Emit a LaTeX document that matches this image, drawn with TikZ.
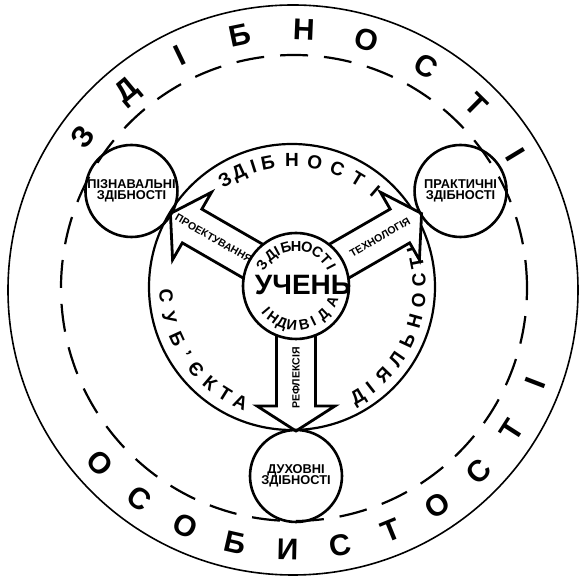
\documentclass[tikz,border=0pt]{standalone}
\usepackage{fontspec}
\setmainfont{Liberation Sans}
\tikzset{every node/.style={font=\bfseries},
  ring/.style={draw=black,line width=1.6pt},
  dashring/.style={draw=black,line width=2.2pt,dash pattern=on 28pt off 16pt},
  midring/.style={draw=black,line width=2.2pt},
  ball/.style={draw=black,circle,line width=2.6pt,inner sep=0pt},
  barrow/.style={draw=black,fill=white,line width=2.8pt,line join=miter},
  bigletter/.style={font=\bfseries\fontsize{30}{30}\selectfont,inner sep=0pt,
    text height=21.5pt,text depth=0pt},
  midletter/.style={font=\bfseries\fontsize{19}{19}\selectfont,inner sep=0pt,
    text height=13.6pt,text depth=0pt},
  hubletter/.style={font=\bfseries\fontsize{14.5}{14.5}\selectfont,inner sep=0pt,
    text height=10.4pt,text depth=0pt},
  arrowlabel/.style={font=\bfseries\fontsize{10.5}{10.5}\selectfont,inner sep=0pt},
  balllabel/.style={font=\bfseries\fontsize{12.8}{12.8}\selectfont,align=center}}

\begin{document}
\begin{tikzpicture}[x=1pt,y=1pt]
  \path[use as bounding box] (-292,-289) rectangle (287,288);
  \coordinate (rim) at (1,-2);
  \coordinate (mid) at (0,1);
  \coordinate (hub) at (4,2);
  % outer rings
  \draw[ring] (rim) circle (285pt);
  \draw[dashring] (2,0) circle (233pt);
  \foreach \l [count=\i from 0] in {З,Д,І,Б,Н,О,С,Т,І}
    \node[bigletter,rotate=144-14.1*\i-90] (top\i)
      at ([shift={(144-14.1*\i:261pt)}]rim) {\l};
  \foreach \l [count=\i from 0] in {О,С,О,Б,И,С,Т,О,С,Т,І}
    \node[bigletter,rotate=222+11.7*\i+90] (bot\i)
      at ([shift={(222+11.7*\i:259pt)}]rim) {\l};
  % middle ring
  \draw[midring] (mid) circle (143pt);
  \foreach \l/\a [count=\i] in {З/122,Д/114.8,І/107.7,Б/101,Н/90,О/79.6,С/69,Т/58.7,І/49}
    \node[midletter,rotate=\a-90] (mtop\i) at ([shift={(\a:127pt)}]mid) {\l};
  \foreach \l/\a [count=\i] in {С/184,У/194,Б/204.5,’/212.5,Є/220.5,К/229.5,Т/238,А/246}
    \node[midletter,rotate=\a+90] (mleft\i) at ([shift={(\a:126pt)}]mid) {\l};
  \foreach \l/\a [count=\i] in {Д/301,І/308,Я/316,Л/325.5,Ь/335,Н/344.5,О/354,С/3,Т/11,І/17.5}
    \node[midletter,rotate=\a+90] (mright\i) at ([shift={(\a:127pt)}]mid) {\l};
  % arrows
  \foreach \ang in {150,30,270}
    \draw[barrow,shift={(hub)},rotate=\ang] (0,-19.5) -- (120,-19.5) -- (120,-39)
      -- (145,0) -- (120,39) -- (120,19.5) -- (0,19.5) -- cycle;
  \node[arrowlabel,rotate=-30] (design) at ([shift={(150:95pt)}]hub) {ПРОЕКТУВАННЯ};
  \node[arrowlabel,rotate=30] (techno) at ([shift={(30:97pt)}]hub) {ТЕХНОЛОГІЯ};
  \node[arrowlabel,rotate=90] (reflex) at ([shift={(270:92pt)}]hub) {РЕФЛЕКСІЯ};
  % centre
  \node[ball,fill=white,minimum size=106pt] (pupil) at (hub) {};
  \foreach \l/\a [count=\i] in {З/149,Д/130,І/118.5,Б/104.7,Н/90,О/74,С/57.5,Т/42,І/27.8}
    \node[hubletter,rotate=\a-90] (htop\i) at ([shift={(\a:40pt)}]hub) {\l};
  \foreach \l/\a [count=\i] in {І/220,Н/234,Д/249,И/264,В/282,І/296,Д/314,А/337}
    \node[hubletter,rotate=\a+90] (hbot\i) at ([shift={(\a:39pt)}]hub) {\l};
  \node[font=\bfseries\fontsize{28}{28}\selectfont,inner sep=0pt] (pupilname)
    at ([shift={(7,1)}]hub) {УЧЕНЬ};
  % satellites
  \node[ball,minimum size=92pt,balllabel] (cogn) at ([shift={(150:190pt)}]hub)
    {ПІЗНАВАЛЬНІ\\[-2pt]ЗДІБНОСТІ};
  \node[ball,minimum size=92pt,balllabel] (pract) at ([shift={(30:190pt)}]hub)
    {ПРАКТИЧНІ\\[-2pt]ЗДІБНОСТІ};
  \node[ball,minimum size=92pt,balllabel] (spirit) at ([shift={(270:190pt)}]hub)
    {ДУХОВНІ\\[-2pt]ЗДІБНОСТІ};
\end{tikzpicture}
\end{document}
